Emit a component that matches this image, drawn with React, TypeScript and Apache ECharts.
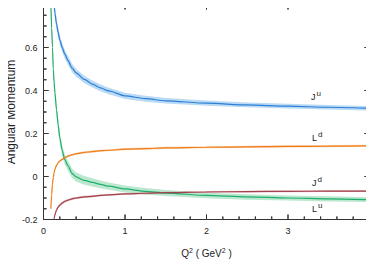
import React, { useEffect, useRef } from "react";
import * as echarts from "echarts";

const q2 = [0.08, 0.09, 0.1, 0.11, 0.12, 0.13, 0.14, 0.16, 0.18, 0.2, 0.23, 0.26, 0.3, 0.35, 0.4, 0.5, 0.6, 0.7, 0.8, 1.0, 1.25, 1.5, 2.0, 2.5, 3.0, 3.5, 4.0];

const jU = [1.1, 1.02, 0.95, 0.89, 0.84, 0.8, 0.76, 0.71, 0.67, 0.635, 0.6, 0.57, 0.54, 0.505, 0.482, 0.452, 0.43, 0.412, 0.398, 0.375, 0.362, 0.352, 0.341, 0.333, 0.327, 0.322, 0.317];
const jUErr = [0.03, 0.03, 0.03, 0.028, 0.027, 0.026, 0.025, 0.024, 0.023, 0.022, 0.021, 0.02, 0.02, 0.019, 0.018, 0.017, 0.016, 0.016, 0.015, 0.015, 0.014, 0.013, 0.012, 0.011, 0.011, 0.01, 0.01];

const lU = [0.95, 0.8, 0.69, 0.6, 0.5, 0.44, 0.39, 0.31, 0.24, 0.18, 0.12, 0.08, 0.05, 0.015, -0.002, -0.018, -0.027, -0.037, -0.045, -0.058, -0.069, -0.077, -0.088, -0.095, -0.1, -0.104, -0.108];
const lUErr = [0.03, 0.03, 0.03, 0.03, 0.03, 0.03, 0.03, 0.028, 0.027, 0.026, 0.025, 0.024, 0.023, 0.022, 0.021, 0.02, 0.019, 0.018, 0.017, 0.016, 0.015, 0.014, 0.013, 0.013, 0.012, 0.012, 0.011];

const lD = [null, -0.15, -0.085, -0.035, -0.005, 0.018, 0.033, 0.052, 0.064, 0.072, 0.08, 0.087, 0.095, 0.101, 0.106, 0.112, 0.116, 0.12, 0.122, 0.127, 0.13, 0.133, 0.136, 0.138, 0.14, 0.141, 0.143];
const lDErr = [null, 0.006, 0.006, 0.006, 0.006, 0.006, 0.006, 0.005, 0.005, 0.005, 0.005, 0.005, 0.005, 0.005, 0.005, 0.005, 0.005, 0.005, 0.005, 0.005, 0.005, 0.005, 0.005, 0.005, 0.005, 0.005, 0.005];

const jD = [null, null, null, null, -0.22, -0.195, -0.178, -0.155, -0.142, -0.133, -0.123, -0.116, -0.11, -0.104, -0.1, -0.095, -0.092, -0.088, -0.085, -0.081, -0.078, -0.075, -0.072, -0.07, -0.069, -0.068, -0.068];
const jDErr = [null, null, null, null, 0.008, 0.008, 0.007, 0.007, 0.006, 0.006, 0.006, 0.005, 0.005, 0.005, 0.005, 0.005, 0.005, 0.004, 0.004, 0.004, 0.004, 0.004, 0.004, 0.004, 0.004, 0.004, 0.004];

const yTicks = [-0.2, 0, 0.2, 0.4, 0.6, 0.8];
const xTicks = [0, 1, 2, 3, 4];
const xMinorPerMajor = 5;
const yMinorPerMajor = 4;

type Curve = { name: string; vals: (number | null)[]; err: (number | null)[]; line: string; band: string };

const curves: Curve[] = [
  { name: "Ju", vals: jU, err: jUErr, line: "#2a7fd6", band: "rgba(130,185,235,0.55)" },
  { name: "Lu", vals: lU, err: lUErr, line: "#1fae6c", band: "rgba(120,210,160,0.5)" },
  { name: "Ld", vals: lD, err: lDErr, line: "#ee7d16", band: "rgba(245,170,110,0.5)" },
  { name: "Jd", vals: jD, err: jDErr, line: "#a3424c", band: "rgba(200,120,128,0.5)" },
];

const W = 374;
const H = 264;
const G = { left: 43.5, right: 4.5, top: 4.5, bottom: 44.5 };
const font = "Liberation Sans, Arial, Helvetica, sans-serif";
const ink = "#333";

const X0 = xTicks[0], X1 = xTicks[xTicks.length - 1];
const Y0 = yTicks[0], Y1 = yTicks[yTicks.length - 1];
// data units per pixel, from the grid size
const xPerPx = (X1 - X0) / (W - G.left - G.right);
const yPerPx = (Y1 - Y0) / (H - G.top - G.bottom);

function allTicks(ticks: number[], n: number) {
  const out: { v: number; major: boolean }[] = [];
  for (let i = 0; i < ticks.length; i++) {
    out.push({ v: ticks[i], major: true });
    if (i < ticks.length - 1) {
      const step = (ticks[i + 1] - ticks[i]) / n;
      for (let k = 1; k < n; k++) out.push({ v: ticks[i] + step * k, major: false });
    }
  }
  return out;
}

// one continuous polyline per frame edge, with its ticks as small excursions
function edgeHorizontal(yEdge: number, dir: number) {
  const pts: number[][] = [];
  allTicks(xTicks, xMinorPerMajor).forEach((t) => {
    const len = (t.major ? 5 : 3) * yPerPx * dir;
    pts.push([t.v, yEdge], [t.v, yEdge + len], [t.v, yEdge]);
  });
  return pts;
}
function edgeVertical(xEdge: number, dir: number) {
  const pts: number[][] = [];
  allTicks(yTicks, yMinorPerMajor).forEach((t) => {
    const len = (t.major ? 5 : 3) * xPerPx * dir;
    pts.push([xEdge, t.v], [xEdge + len, t.v], [xEdge, t.v]);
  });
  return pts;
}

function frameLine(name: string, data: number[][]) {
  return {
    type: "line", name, data, symbol: "none", smooth: false, clip: false, silent: true, z: 20,
    lineStyle: { color: ink, width: 1 },
  };
}

function buildSeries() {
  const out: any[] = [];
  curves.forEach((c) => {
    const idx = q2.map((_, i) => i).filter((i) => c.vals[i] != null);
    const upper = idx.map((i) => [q2[i], (c.vals[i] as number) + (c.err[i] as number)]);
    const lower = idx.map((i) => [q2[i], (c.vals[i] as number) - (c.err[i] as number)]);
    const mid = idx.map((i) => [q2[i], c.vals[i] as number]);
    out.push({
      type: "custom",
      name: c.name + "band",
      data: [[q2[idx[0]], c.vals[idx[0]]]],
      clip: true,
      silent: true,
      z: 1,
      renderItem: (_params: any, api: any) => {
        const pts = upper.map((p) => api.coord(p)).concat(lower.slice().reverse().map((p) => api.coord(p)));
        return { type: "polygon", shape: { points: pts }, style: { fill: c.band, stroke: "none" } };
      },
    });
    out.push({
      type: "line", name: c.name,
      data: mid, symbol: "none", smooth: 0.25, smoothMonotone: "x",
      lineStyle: { color: c.line, width: 1.2 }, z: 3, clip: true,
    });
  });
  out.push(frameLine("frameBottom", edgeHorizontal(Y0, 1)));
  out.push(frameLine("frameTop", edgeHorizontal(Y1, -1)));
  out.push(frameLine("frameLeft", edgeVertical(X0, 1)));
  out.push(frameLine("frameRight", edgeVertical(X1, -1)));
  return out;
}

function labelText(x: number, y: number, main: string, sup: string) {
  return {
    type: "text",
    x, y,
    style: {
      text: `{m|${main}}{s|${sup}}`,
      rich: {
        m: { fontSize: 9, fontFamily: font, fill: "#222", verticalAlign: "bottom", lineHeight: 12 },
        s: { fontSize: 8, fontFamily: font, fill: "#222", verticalAlign: "top", lineHeight: 12, padding: [0, 0, 5, 1] },
      },
      fill: "#222",
    },
    z: 10,
  };
}

export default function App() {
  const ref = useRef<HTMLDivElement>(null);
  useEffect(() => {
    if (!ref.current) return;
    const chart = echarts.init(ref.current, undefined, { renderer: "svg" });
    chart.setOption({
      animation: false,
      backgroundColor: "#fff",
      grid: { ...G, outerBoundsMode: "none", containLabel: false },
      xAxis: {
        type: "value", min: X0, max: X1, interval: 1, position: "bottom",
        axisLine: { show: false, onZero: false }, axisTick: { show: false }, splitLine: { show: false },
        axisLabel: { fontSize: 9, color: "#222", fontFamily: font, margin: 7, showMaxLabel: true, showMinLabel: true },
        name: "Q{s|2} ( GeV{s|2} )",
        nameLocation: "middle", nameGap: 27, nameMoveOverlap: false,
        nameTextStyle: {
          fontSize: 10, color: "#222", fontFamily: font,
          rich: { s: { fontSize: 7, fontFamily: font, color: "#222", verticalAlign: "top", padding: [0, 0, 6, 0] } },
        },
      },
      yAxis: {
        type: "value", min: Y0, max: Y1, interval: 0.2, position: "left",
        axisLine: { show: false, onZero: false }, axisTick: { show: false }, splitLine: { show: false },
        axisLabel: {
          fontSize: 9, color: "#222", fontFamily: font, margin: 6, showMaxLabel: true, showMinLabel: true,
          formatter: (v: number) => String(Math.round(v * 10) / 10),
        },
        name: "Angular Momentum", nameLocation: "middle", nameGap: 27, nameMoveOverlap: false,
        nameTextStyle: { fontSize: 12, color: "#222", fontFamily: font },
      },
      series: buildSeries(),
      graphic: [
        labelText(311, 89, "J", "u"),
        labelText(312, 130, "L", "d"),
        labelText(312, 175, "J", "d"),
        labelText(312, 201, "L", "u"),
      ],
    });
    return () => chart.dispose();
  }, []);
  return <div ref={ref} style={{ width: W, height: H, marginLeft: -8, marginTop: -8 }} />;
}
